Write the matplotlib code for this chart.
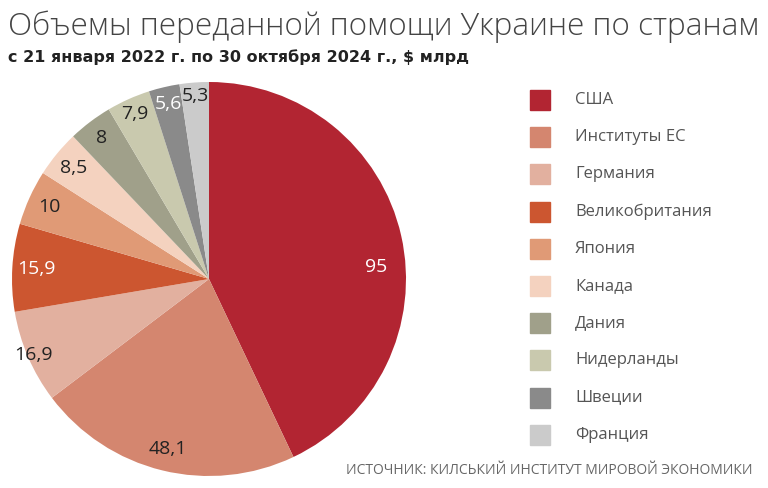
import numpy as np
import matplotlib.pyplot as plt
import matplotlib.patches as mpatches

countries = ["США", "Институты ЕС", "Германия", "Великобритания", "Япония",
             "Канада", "Дания", "Нидерланды", "Швеции", "Франция"]
values = [95, 48.1, 16.9, 15.9, 10, 8.5, 8, 7.9, 5.6, 5.3]
labels = ["95", "48,1", "16,9", "15,9", "10", "8,5", "8", "7,9", "5,6", "5,3"]
colors = ["#B22532", "#D4866F", "#E2B09F", "#CC5630", "#E09A76",
          "#F4D2BF", "#A0A08A", "#C9C9AE", "#8A8A8A", "#CBCBCB"]
text_colors = ["white", "#222222", "#222222", "white", "#222222",
               "#222222", "#222222", "#222222", "white", "#222222"]
label_r = [0.85, 0.89, 0.97, 0.88, 0.89, 0.89, 0.9, 0.92, 0.91, 0.93]

fig = plt.figure(figsize=(7.68, 4.88), dpi=100)
ax = fig.add_axes([12 / 768, 12 / 488, 394 / 768, 394 / 488])

wedges, _ = ax.pie(values, colors=colors, startangle=90, counterclock=False)
ax.set_xlim(-1, 1)
ax.set_ylim(-1, 1)
ax.set_aspect("equal")

for w, lab, c, r in zip(wedges, labels, text_colors, label_r):
    ang = np.deg2rad((w.theta1 + w.theta2) / 2)
    if lab == "95":
        ang = np.deg2rad(4)  # label sits lower in the original
    ax.text(r * np.cos(ang), r * np.sin(ang), lab, color=c, fontsize=14,
            family="Open Sans", ha="center", va="center")

fig.text(8 / 768, 1 - 27 / 488, "Объемы переданной помощи Украине по странам",
         fontsize=22.7, family="Open Sans", fontweight="light", color="#444444",
         va="center", ha="left")
fig.text(8 / 768, 1 - 57 / 488, "с 21 января 2022 г. по 30 октября 2024 г., $ млрд",
         fontsize=11.5, family="DejaVu Sans", fontweight="bold", color="#222222",
         va="center", ha="left")

# legend
for i, (name, col) in enumerate(zip(countries, colors)):
    yc = 100 + i * 37.2
    fig.patches.append(mpatches.Rectangle((530 / 768, 1 - (yc + 10) / 488), 20 / 768, 20 / 488,
                                          transform=fig.transFigure, color=col))
    fig.text(575 / 768, 1 - yc / 488, name, fontsize=12, family="Open Sans",
             color="#555555", va="center", ha="left")

fig.text(752 / 768, 1 - 470 / 488, "ИСТОЧНИК: КИЛСЬКИЙ ИНСТИТУТ МИРОВОЙ ЭКОНОМИКИ",
         fontsize=10, family="Open Sans", color="#666666", va="center", ha="right")

fig.savefig("out.png", dpi=100)
